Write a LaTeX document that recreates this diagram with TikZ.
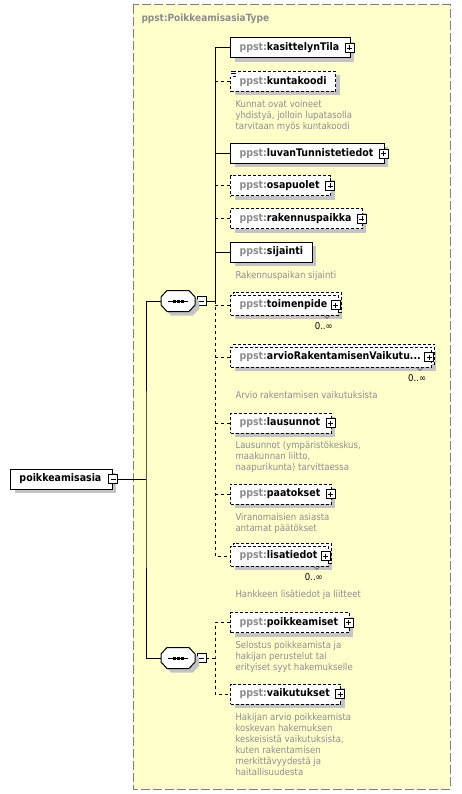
\documentclass[tikz,border=0pt]{standalone}
\usepackage{fontspec}
\setmainfont{DejaVu Sans Condensed}
\usepackage{tikz}
\usetikzlibrary{positioning,shadows}

\definecolor{boxyellow}{HTML}{FFFFCC}
\definecolor{framegrey}{HTML}{808080}
\definecolor{pfxgrey}{HTML}{8C8C8C}
\definecolor{notegrey}{HTML}{8E8E8E}
\definecolor{shadowgrey}{HTML}{C4C4C4}
\newcommand{\pp}[1]{{\color{pfxgrey}ppst:}#1}

\begin{document}
\begin{tikzpicture}[x=1pt, y=-1pt, line width=1pt,
  elem/.style={draw, fill=white, anchor=west, minimum height=20pt,
               inner xsep=9pt, inner ysep=0pt, font=\fontsize{10.5}{11}\selectfont\bfseries,
               drop shadow={shadow xshift=4pt, shadow yshift=-4pt, fill=shadowgrey, opacity=1}},
  opt/.style={elem, dash pattern=on 3pt off 2pt},
  multi/.style={opt, copy shadow={shadow xshift=3pt, shadow yshift=3pt, draw=black,
               fill=white, dash pattern=on 3pt off 2pt}},
  exp/.style={execute at end node={\hspace{2pt}}},
  note/.style={anchor=north west, inner sep=0pt, align=left, text=notegrey,
               font=\fontsize{9.5}{11}\selectfont},
  occ/.style={inner sep=0pt, font=\fontsize{9.5}{10}\selectfont},
  plusbox/.style={draw, fill=white, solid, line width=0.8pt, minimum size=9pt, inner sep=0pt,
               path picture={\draw[line width=0.8pt]
                 ([xshift=2pt]path picture bounding box.west) -- ([xshift=-2pt]path picture bounding box.east)
                 ([yshift=-2pt]path picture bounding box.north) -- ([yshift=2pt]path picture bounding box.south);}},
  minusbox/.style={draw, fill=white, solid, line width=0.8pt, minimum size=9pt, inner sep=0pt,
               path picture={\draw[line width=0.8pt]
                 ([xshift=2pt]path picture bounding box.west) -- ([xshift=-2pt]path picture bounding box.east);}},
  seq/.style={minimum width=34pt, minimum height=21pt, inner sep=0pt},
  link/.style={dash pattern=on 3pt off 3pt}]
\useasboundingbox (0,0) rectangle (461,794);
% complex type frame
\draw[framegrey, fill=boxyellow, dash pattern=on 9pt off 3pt] (133,5) rectangle (450,789);
\node[anchor=west, inner sep=0pt, text=pfxgrey, font=\fontsize{10}{11}\selectfont\bfseries] (typename) at (141,19) {ppst:PoikkeamisasiaType};
% root element
\node[elem, exp] (root) at (10,479) {poikkeamisasia};
\node[minusbox] (root-x) at ([xshift=0.5pt]root.east) {};
% compositors (octagon drawn below)
\node[seq] (seq1) at (178,301) {};
\node[minusbox, right=1pt of seq1] (seq1-x) {};
\node[seq] (seq2) at (178,658) {};
\node[minusbox, right=1pt of seq2] (seq2-x) {};
\foreach \s in {seq1,seq2} {
  \fill[shadowgrey] ([shift={(4,4)}]\s.center) ++(-17,-4) -- ++(6,-6.5) -- ++(22,0) -- ++(6,6.5)
    -- ++(0,8) -- ++(-6,6.5) -- ++(-22,0) -- ++(-6,-6.5) -- cycle;
  \draw[fill=white] (\s.center) ++(-17,-4) -- ++(6,-6.5) -- ++(22,0) -- ++(6,6.5)
    -- ++(0,8) -- ++(-6,6.5) -- ++(-22,0) -- ++(-6,-6.5) -- cycle;
  \draw (\s.center) ++(-10,0) -- ++(20,0);
  \foreach \d in {-4,0,4}
    \fill ([xshift=\d pt]\s.center) +(-1.5,-1.5) rectangle +(1.5,1.5);
}
% first sequence
\node[elem, exp] (kasit) at (230,48) {\pp{kasittelynTila}};
\node[opt] (kunta) at (230,81.5) {\pp{kuntakoodi}};
\node[elem, exp] (luvan) at (230,153.5) {\pp{luvanTunnistetiedot}};
\node[opt, exp] (osap) at (230,186) {\pp{osapuolet}};
\node[opt, exp] (rakpaikka) at (230,219) {\pp{rakennuspaikka}};
\node[elem] (sijainti) at (230,252) {\pp{sijainti}};
\node[multi, exp] (toimenp) at (230,305) {\pp{toimenpide}};
\node[multi, exp] (arvio) at (230,357) {\pp{arvioRakentamisenVaikutu...}};
\node[opt, exp] (lausunnot) at (230,423) {\pp{lausunnot}};
\node[opt, exp] (paatokset) at (230,494) {\pp{paatokset}};
\node[multi, exp] (lisatiedot) at (230,556) {\pp{lisatiedot}};
% second sequence
\node[opt, exp] (poikk) at (230,622.5) {\pp{poikkeamiset}};
\node[opt, exp] (vaikut) at (230,694) {\pp{vaikutukset}};
% expand buttons
\foreach \n in {kasit,luvan,osap,rakpaikka,lausunnot,paatokset,poikk,vaikut}
  \node[plusbox] (\n-x) at ([xshift=-1pt]\n.east) {};
\foreach \n in {toimenp,arvio,lisatiedot}
  \node[plusbox] (\n-x) at ([xshift=-3pt]\n.east) {};
% simple content mark on kuntakoodi
\fill[white] (230,70) rectangle (237,77);
\draw[line width=0.7pt] (231,71) -- (236,71) (231,73.5) -- (236,73.5) (232.5,76) -- (236,76);
% occurrences
\foreach \n in {toimenp,arvio,lisatiedot} {
  \node[occ] (\n-occ) at ([xshift=-15pt, yshift=-11pt]\n.south east) {0..∞};
  \draw[black!60, line width=0.7pt] ([xshift=-15pt]\n.south east) -- ++(3,3) -- ++(3,-3);
}
% annotations
\node[note] (kunta-doc) at (235,100) {Kunnat ovat voineet\\yhdistyä, jolloin lupatasolla\\tarvitaan myös kuntakoodi};
\node[note] (sijainti-doc) at (235,271) {Rakennuspaikan sijainti};
\node[note] (arvio-doc) at (235,391) {Arvio rakentamisen vaikutuksista};
\node[note] (lausunnot-doc) at (235,441) {Lausunnot (ympäristökeskus,\\maakunnan liitto,\\naapurikunta) tarvittaessa};
\node[note] (paatokset-doc) at (235,513) {Viranomaisien asiasta\\antamat päätökset};
\node[note] (lisatiedot-doc) at (235,590) {Hankkeen lisätiedot ja liitteet};
\node[note] (poikk-doc) at (235,641) {Selostus poikkeamista ja\\hakijan perustelut tai\\erityiset syyt hakemukselle};
\node[note] (vaikut-doc) at (235,713) {Hakijan arvio poikkeamista\\koskevan hakemuksen\\keskeisistä vaikutuksista,\\kuten rakentamisen\\merkittävyydestä ja\\haitallisuudesta};
% connectors
\coordinate (trunk) at (146,479);
\coordinate (s1) at (215,301);
\coordinate (s2) at (215,658);
\draw (root-x.east) -- (trunk);
\draw ([xshift=-17pt]seq1.center) -| (trunk) |- ([xshift=-17pt]seq2.center);
\draw (seq1-x.east) -- (s1);
\draw (s1) |- (kasit.west);
\foreach \n in {luvan,sijainti}
  \draw (s1 |- \n.west) -- (\n.west);
\foreach \n in {kunta,osap,rakpaikka,toimenp,arvio,lausunnot,paatokset}
  \draw[link] (s1 |- \n.west) -- (\n.west);
\draw[link] (s1) |- (lisatiedot.west);
\draw[link] (seq2-x.east) -- (s2);
\draw[link] (poikk.west) -| (s2) |- (vaikut.west);
\end{tikzpicture}
\end{document}
